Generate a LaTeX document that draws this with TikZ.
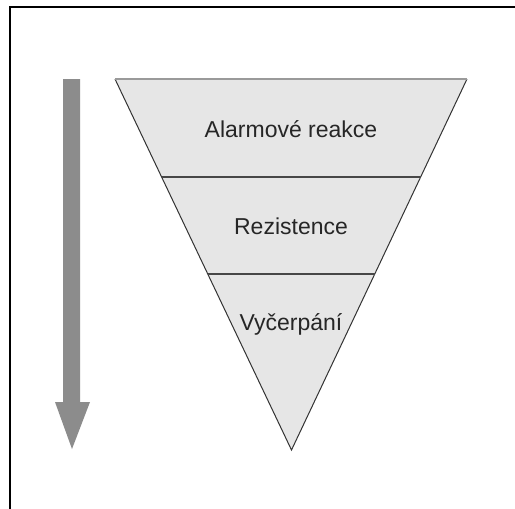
\documentclass[tikz,border=0pt]{standalone}
\usepackage{fontspec}
\setmainfont{Liberation Sans}
\usetikzlibrary{calc}
\definecolor{funnelfill}{HTML}{E6E6E6}
\definecolor{arrowgray}{HTML}{8C8C8C}
\definecolor{edgedark}{HTML}{333333}
\definecolor{edgelight}{HTML}{9A9A9A}
\tikzset{
  stagelabel/.style={anchor=base, font=\fontsize{23}{26}\selectfont, text=black!85, inner sep=0pt},
  sideline/.style={draw=edgedark, line width=1pt},
  divider/.style={draw=edgedark!90, line width=1.4pt},
}
\begin{document}
\begin{tikzpicture}[x=1pt,y=-1pt]
\useasboundingbox (0,0) rectangle (515,509);
\fill[white] (0,0) rectangle (515,509);
% frame
\draw[black, line width=2pt] (10,509) -- (10,6.5) -- (515,6.5);
% funnel
\coordinate (TL) at (115,79);
\coordinate (TR) at (467,79);
\coordinate (B) at (291.5,450);
\fill[funnelfill] (TL) -- (TR) -- (B) -- cycle;
\draw[sideline] (TL) -- (B) -- (TR);
\draw[edgelight, line width=1.2pt] (TL) -- (TR);
\coordinate (D1L) at ($(TL)!0.264!(B)$);
\coordinate (D1R) at ($(TR)!0.264!(B)$);
\coordinate (D2L) at ($(TL)!0.526!(B)$);
\coordinate (D2R) at ($(TR)!0.526!(B)$);
\draw[divider] (D1L) -- (D1R);
\draw[divider] (D2L) -- (D2R);
\node[stagelabel] (alarm) at (291,137) {Alarmové reakce};
\node[stagelabel] (rez) at (291,234) {Rezistence};
\node[stagelabel] (vyc) at (291,330) {Vyčerpání};
% arrow
\fill[arrowgray] (63,79) -- (80,79) -- (80,402) -- (90,402) -- (72,449) -- (55,402) -- (63,402) -- cycle;
\end{tikzpicture}
\end{document}
